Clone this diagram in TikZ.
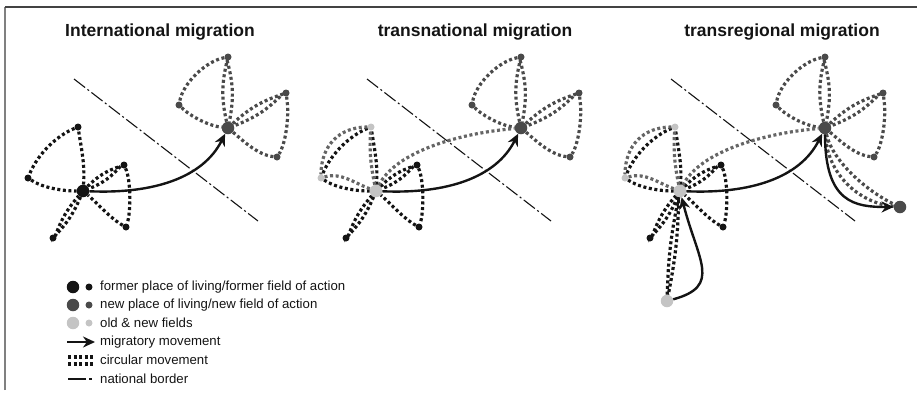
\documentclass[tikz,border=0pt]{standalone}
\usepackage{fontspec}
\setmainfont{Liberation Sans}
\usetikzlibrary{arrows.meta}

\definecolor{oldc}{HTML}{141414}
\definecolor{newc}{HTML}{4A4A4A}
\definecolor{bothc}{HTML}{C4C4C4}

\tikzset{
  hubdot/.style={circle, inner sep=0pt, minimum size=12.5bp, draw=none},
  tipdot/.style={circle, inner sep=0pt, minimum size=7bp, draw=none},
  circ/.style={line width=3.2bp, dash pattern=on 3bp off 2.6bp},
  migr/.style={oldc, line width=2.4bp, -{Stealth[length=12bp,width=11bp]}},
  natborder/.style={oldc, line width=1.1bp, dash pattern=on 14bp off 3bp on 2bp off 3bp},
  title/.style={font=\fontsize{17.5bp}{20bp}\selectfont\bfseries, text=oldc},
  keytext/.style={anchor=west, font=\fontsize{13.2bp}{15bp}\selectfont, text=oldc, inner sep=0pt}
}

\begin{document}
\begin{tikzpicture}[x=1bp, y=-1bp]
  \useasboundingbox (0,0) rectangle (917,395);
  % frame
  \draw[gray, line width=1.6bp] (5,390) -- (5,7);
  \draw[oldc!80, line width=1.2bp] (5,7) -- (917,7);

  % titles
  \node[title] (t1) at (160,32) {International migration};
  \node[title] (t2) at (475,32) {transnational migration};
  \node[title] (t3) at (782,32) {transregional migration};

  % the three panels share one layout
  \foreach \p/\dx/\hc/\ac in {a/0/oldc/oldc, b/293/bothc/bothc, c/597/bothc/bothc} {
    \begin{scope}[xshift=\dx bp]
      \draw[natborder] (74,79) -- (258,221);
      % new place
      \node[hubdot, fill=newc] (\p-N) at (228,128) {};
      \foreach \t/\x/\y in {T/228/57, L/179/105, R/286/93, Q/277/157}
        \node[tipdot, fill=newc] (\p-\t) at (\x,\y) {};
      \draw[circ, newc] (\p-N) to[bend left=13] (\p-T) to[bend left=13] (\p-N);
      \draw[circ, newc] (\p-T) .. controls +(-22,4) and +(4,-22) .. (\p-L)
                               .. controls +(12,12) and +(-18,-2) .. (\p-N);
      \draw[circ, newc] (\p-N) to[bend left=12] (\p-R) to[bend left=12] (\p-N);
      \draw[circ, newc] (\p-R) .. controls +(4,25) and +(8,-12) .. (\p-Q)
                               .. controls +(-20,-2) and +(12,10) .. (\p-N);
      % former place
      \node[hubdot, fill=\hc] (\p-O) at (83,191) {};
      \node[tipdot, fill=\ac] (\p-A) at (78,127) {};
      \node[tipdot, fill=\ac] (\p-B) at (28,178) {};
      \foreach \t/\x/\y in {C/124/165, D/126/227, E/53/238}
        \node[tipdot, fill=oldc] (\p-\t) at (\x,\y) {};
      \draw[circ, oldc] (\p-O) .. controls +(2,-25) and +(4,25) .. (\p-A)
                               .. controls +(-20,8) and +(10,-25) .. (\p-B)
                               .. controls +(15,10) and +(-20,0) .. (\p-O);
      \draw[circ, oldc] (\p-O) to[bend left=13] (\p-C) to[bend left=13] (\p-O);
      \draw[circ, oldc] (\p-C) .. controls +(7,15) and +(5,-15) .. (\p-D)
                               .. controls +(-15,-8) and +(12,10) .. (\p-O);
      \draw[circ, oldc] (\p-O) to[bend left=10] (\p-E) to[bend left=10] (\p-O);
      % migration
      \draw[migr] (\p-O) .. controls +(70,3) and +(-25,50) .. (\p-N);
    \end{scope}
  }

  % old & new fields kept up
  \foreach \p in {b,c} {
    \draw[circ, newc!85] (\p-O) .. controls +(-5,-25) and +(-2,25) .. (\p-A)
                               .. controls +(-32,0) and +(0,-32) .. (\p-B)
                               .. controls +(20,-6) and +(-22,-8) .. (\p-O);
    \draw[circ, newc!85] (\p-O) .. controls +(20,-40) and +(-60,5) .. (\p-N);
  }

  % further moves
  \begin{scope}[xshift=597bp]
    \node[hubdot, fill=newc] (c-F) at (303,207) {};
    \node[hubdot, fill=bothc] (c-S) at (70,301) {};
    \draw[circ, newc] (c-N) .. controls +(8,35) and +(-30,-14) .. (c-F)
                            .. controls +(-42,-4) and +(2,45) .. (c-N);
    \draw[circ, oldc] (c-S) to[bend left=5] (c-O) to[bend left=5] (c-S);
    \draw[migr] (c-N) .. controls +(0,75) and +(-45,0) .. (c-F);
    \draw[migr] (c-S) .. controls +(55,-15) and +(18,70) .. (c-O);
  \end{scope}

  % key
  \node[hubdot, fill=oldc] (k1) at (73,287) {};
  \node[tipdot, fill=oldc] (k1s) at (89,287) {};
  \node[keytext] (k1t) at (100,287) {former place of living/former field of action};
  \node[hubdot, fill=newc] (k2) at (73,305) {};
  \node[tipdot, fill=newc] (k2s) at (89,305) {};
  \node[keytext] (k2t) at (100,305) {new place of living/new field of action};
  \node[hubdot, fill=bothc] (k3) at (73,323) {};
  \node[tipdot, fill=bothc] (k3s) at (89,323) {};
  \node[keytext] (k3t) at (100,323) {old \& new fields};
  \draw[migr] (67,342) -- (95,342);
  \node[keytext] (k4t) at (100,342) {migratory movement};
  \draw[circ, oldc] (68,357) -- (93,357);
  \draw[circ, oldc] (68,364) -- (93,364);
  \node[keytext] (k5t) at (100,360) {circular movement};
  \draw[oldc, line width=1.2bp] (68,379) -- (86,379);
  \draw[oldc, line width=1.2bp] (89,379) -- (92,379);
  \node[keytext] (k6t) at (100,379) {national border};
\end{tikzpicture}
\end{document}
